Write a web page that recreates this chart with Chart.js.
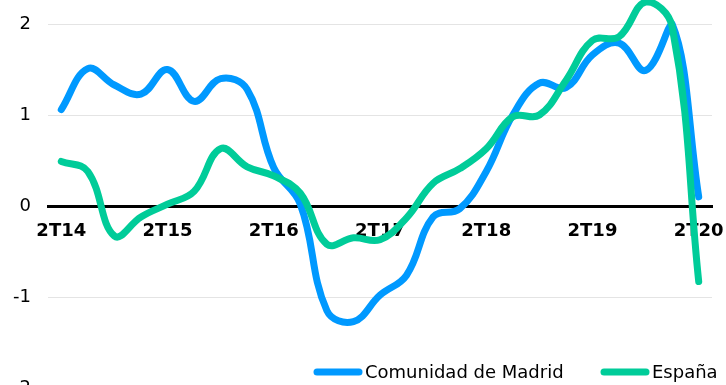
<!DOCTYPE html>
<html lang="es">
<head>
  <meta charset="UTF-8">
  <title>Comunidad de Madrid vs España</title>
  <style>
    html, body { margin: 0; padding: 0; background: #fff; overflow: hidden; }
    #growthChart { position: absolute; left: 0; top: 0; }
  </style>
</head>
<body>
  <canvas id="growthChart" width="726" height="400"></canvas>

  <script src="https://cdn.jsdelivr.net/npm/chart.js"></script>
  <script>
    // quarters 2T14 .. 2T20
    const quarters = [
      '2T14', '3T14', '4T14', '1T15', '2T15', '3T15', '4T15', '1T16',
      '2T16', '3T16', '4T16', '1T17', '2T17', '3T17', '4T17', '1T18',
      '2T18', '3T18', '4T18', '1T19', '2T19', '3T19', '4T19', '1T20', '2T20'
    ];
    const madrid = [
      1.06, 1.51, 1.33, 1.23, 1.50, 1.15, 1.40, 1.28, 0.42, 0.02, -1.15, -1.27, -0.98,
      -0.76, -0.12, -0.03, 0.38, 1.00, 1.35, 1.30, 1.66, 1.79, 1.49, 2.00, 0.10
    ];
    const espana = [
      0.49, 0.38, -0.33, -0.12, 0.02, 0.16, 0.63, 0.43, 0.33, 0.14, -0.42, -0.35, -0.37,
      -0.13, 0.25, 0.41, 0.63, 0.98, 1.00, 1.38, 1.82, 1.86, 2.24, 1.97, -0.83
    ];
    const yTicks = [-2, -1, 0, 1, 2];

    const FONT = "'DejaVu Sans', Verdana, sans-serif";

    // legend drawn inside the plot, bottom right
    const bottomLegend = {
      id: 'bottomLegend',
      afterDraw(chart) {
        const c = chart.ctx;
        const spots = [314, 601];
        const y = 372;
        c.save();
        c.font = '18px ' + FONT;
        c.textBaseline = 'middle';
        c.lineCap = 'round';
        chart.data.datasets.forEach((ds, i) => {
          const x = spots[i];
          c.strokeStyle = ds.borderColor;
          c.lineWidth = 7;
          c.beginPath();
          c.moveTo(x + 3, y);
          c.lineTo(x + 45, y);
          c.stroke();
          c.fillStyle = '#000';
          c.fillText(ds.label, x + 51, y + 1);
        });
        c.restore();
      }
    };

    document.addEventListener('DOMContentLoaded', () => {
      const ctx = document.getElementById('growthChart').getContext('2d');
      new Chart(ctx, {
        type: 'line',
        data: {
          labels: quarters,
          datasets: [
            {
              label: 'Comunidad de Madrid',
              data: madrid,
              borderColor: '#0099ff',
              order: 2
            },
            {
              label: 'España',
              data: espana,
              borderColor: '#00cc99',
              order: 1
            }
          ]
        },
        options: {
          responsive: false,
          animation: false,
          layout: { padding: { top: 24, right: 14, bottom: 12, left: 0 } },
          elements: {
            point: { radius: 0, hoverRadius: 0 },
            line: {
              borderWidth: 7,
              tension: 0.4,
              borderCapStyle: 'round',
              borderJoinStyle: 'round',
              fill: false
            }
          },
          datasets: { line: { clip: false } },
          plugins: {
            legend: { display: false },
            tooltip: { enabled: false }
          },
          scales: {
            x: {
              position: { y: 0 },
              offset: true,
              afterFit: (scale) => { scale.paddingLeft = 0; scale.paddingRight = 0; },
              grid: { display: false, drawTicks: false },
              border: { display: true, color: '#000', width: 3 },
              ticks: {
                autoSkip: false,
                maxRotation: 0,
                padding: 15,
                color: '#000',
                font: { family: FONT, size: 18, weight: 'bold' },
                callback: function (value, index) {
                  const q = quarters[index];
                  return q.startsWith('2T') ? q : null;
                }
              }
            },
            y: {
              min: yTicks[0],
              max: yTicks[yTicks.length - 1],
              afterFit: (scale) => { scale.width = 48; scale.paddingTop = 0; scale.paddingBottom = 0; },
              afterBuildTicks: (scale) => { scale.ticks = yTicks.map(v => ({ value: v })); },
              grid: { color: '#e4e4e4', lineWidth: 1, drawTicks: false },
              border: { display: false },
              ticks: {
                padding: 17,
                color: '#000',
                font: { family: FONT, size: 18 }
              }
            }
          }
        },
        plugins: [bottomLegend]
      });
    });
  </script>
</body>
</html>
